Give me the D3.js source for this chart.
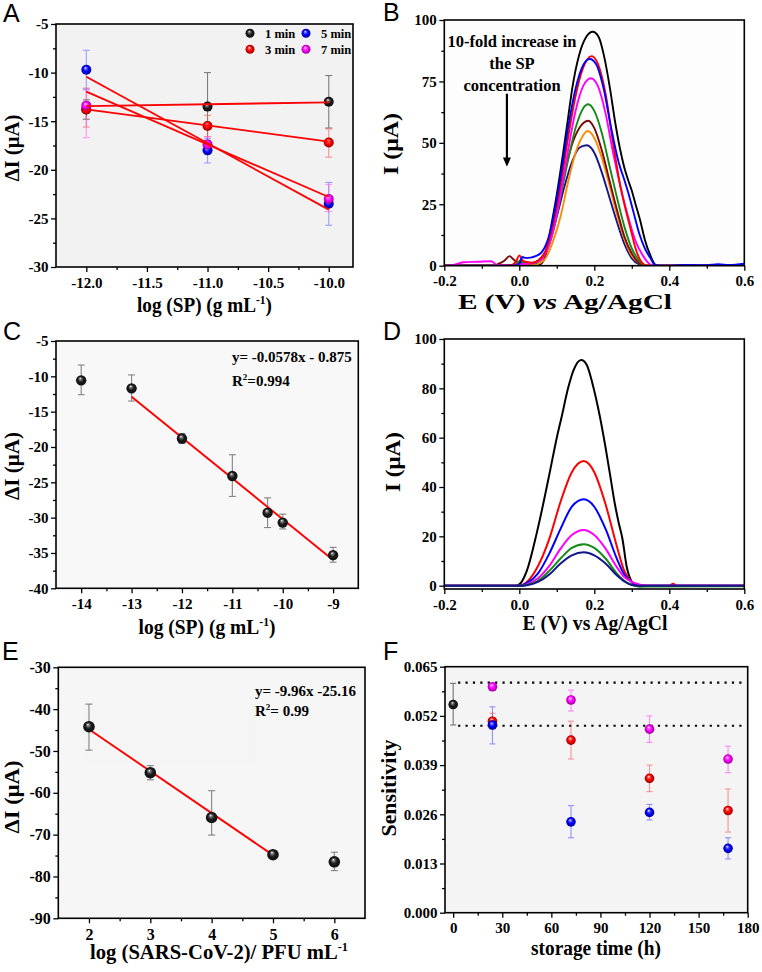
<!DOCTYPE html>
<html><head><meta charset="utf-8">
<script src="https://cdn.jsdelivr.net/npm/d3@7"></script>
<style>body{margin:0;background:#fff}svg{display:block}
.tick text{font-family:"Liberation Serif","Times New Roman",Times,serif !important;font-weight:bold}</style>
</head><body><svg id="chart" width="762" height="972"></svg>
<script>
// ================= DATA =================
// Panel A
const aX = [-12, -11, -10];
const a1 = [-13.8, -13.5, -13.0], a1Lo = [-14.8, -17.0, -15.7], a1Hi = [-12.8, -10.0, -10.3];
const a3 = [-13.8, -15.5, -17.2], a3Lo = [-15.6, -16.6, -18.7], a3Hi = [-11.6, -14.4, -15.8];
const a5 = [-9.7, -18.0, -23.5], a5Lo = [-11.7, -19.3, -25.7], a5Hi = [-7.7, -16.8, -21.3];
const a7 = [-13.4, -17.4, -23.0], a7Lo = [-16.7, -18.2, -24.3], a7Hi = [-11.8, -16.6, -21.5];
const aFitX = [-12, -10];
const a1Fit = [-13.45, -13.06], a3Fit = [-13.78, -17.1], a5Fit = [-10.42, -24.1], a7Fit = [-11.96, -22.8];
const aLegend = ["1 min", "3 min", "5 min", "7 min"];
const aXTicks = [-12, -11.5, -11, -10.5, -10], aXLabels = ["-12.0", "-11.5", "-11.0", "-10.5", "-10.0"];
const aYTicks = [-5, -10, -15, -20, -25, -30], aYLabels = ["-5", "-10", "-15", "-20", "-25", "-30"];

// Panel B  (E in V, I in uA)
const bBlack = [[-0.2,0],[0.0,0],[0.04,0],[0.055,0.5],[0.07,4],[0.086,17],[0.10,29],[0.117,46],[0.13,60],[0.141,72],[0.16,86],[0.178,93],[0.196,95.2],[0.212,93],[0.225,86],[0.242,72],[0.255,59],[0.268,48],[0.28,40],[0.29,35],[0.30,30.5],[0.31,25],[0.322,18.6],[0.335,10.5],[0.35,4],[0.362,0.5],[0.37,0],[0.6,0]];
const bNavy = [[-0.2,0],[0.0,0],[0.02,0.8],[0.035,1],[0.05,2],[0.065,4.5],[0.08,9],[0.10,20],[0.12,32],[0.14,42],[0.16,48],[0.18,49],[0.20,46],[0.22,38],[0.24,28],[0.26,18],[0.28,9],[0.30,3],[0.32,0.5],[0.33,0],[0.6,0]];
const bOrange = [[-0.2,0],[-0.03,0],[0.0,0.3],[0.03,0.3],[0.045,0.5],[0.055,1],[0.07,3],[0.09,10],[0.11,20],[0.13,34],[0.15,46],[0.17,53],[0.182,54.8],[0.20,52],[0.22,44],[0.24,33],[0.26,21],[0.28,11],[0.30,4],[0.32,1],[0.33,0],[0.6,0]];
const bBrown = [[-0.2,0],[-0.07,0],[-0.055,0.8],[-0.04,2],[-0.026,3.9],[-0.015,2.5],[-0.005,1.5],[0.01,1],[0.03,1],[0.05,2],[0.065,4],[0.08,10],[0.10,22],[0.12,37],[0.14,49],[0.16,56],[0.184,59],[0.20,56],[0.22,47],[0.24,35],[0.26,23],[0.28,12],[0.30,5],[0.32,1],[0.33,0],[0.6,0]];
const bGreen = [[-0.2,0],[-0.02,0],[-0.005,1],[0.003,2.2],[0.012,1.2],[0.025,1],[0.04,1],[0.055,2],[0.07,5],[0.09,14],[0.11,28],[0.13,43],[0.15,56],[0.17,64],[0.184,65.7],[0.20,63],[0.22,54],[0.24,41],[0.26,28],[0.28,16],[0.30,7],[0.32,2],[0.335,0],[0.6,0]];
const bMagenta = [[-0.2,0],[-0.175,0.3],[-0.15,1.4],[-0.11,1.6],[-0.075,1.8],[-0.068,1.2],[-0.06,0.2],[-0.02,0.2],[0.0,0.5],[0.02,0.8],[0.04,1.2],[0.055,2],[0.07,5],[0.09,14],[0.11,29],[0.13,47],[0.15,63],[0.17,73],[0.191,76.3],[0.21,73],[0.23,62],[0.25,46],[0.27,32],[0.29,20],[0.31,10],[0.33,4],[0.345,1],[0.355,0],[0.6,0]];
const bRed = [[-0.2,0],[-0.05,0],[-0.02,0.3],[-0.008,2],[0.0,4.2],[0.01,2],[0.02,1.5],[0.035,1.2],[0.05,2],[0.07,6],[0.09,17],[0.11,33],[0.13,52],[0.15,69],[0.17,80.5],[0.193,85.3],[0.21,82],[0.23,70],[0.25,50],[0.27,32],[0.29,19],[0.30,13],[0.31,7],[0.32,3],[0.33,0.8],[0.34,0],[0.6,0]];
const bBlue = [[-0.2,0],[-0.02,0],[0.0,0.8],[0.008,3.6],[0.015,3.2],[0.03,3.3],[0.045,4],[0.06,5.5],[0.075,10],[0.09,19],[0.11,36],[0.13,56],[0.15,72],[0.17,81.5],[0.188,84.1],[0.205,82],[0.225,72],[0.245,56],[0.265,42],[0.28,35],[0.29,30],[0.305,21.5],[0.32,13],[0.335,7],[0.35,3],[0.362,0.3],[0.38,0],[0.45,0.3],[0.5,0.2],[0.53,0.6],[0.56,0.3],[0.6,0.8]];
const bText = ["10-fold increase in", "the SP", "concentration"];
const bXTicks = [-0.2, 0, 0.2, 0.4, 0.6], bXLabels = ["-0.2", "0.0", "0.2", "0.4", "0.6"];
const bYTicks = [0, 25, 50, 75, 100], bYLabels = ["0", "25", "50", "75", "100"];

// Panel C
const cX = [-14, -13, -12, -11, -10.3, -10, -9];
const cY = [-10.57, -11.7, -18.8, -24.1, -29.3, -30.7, -35.3];
const cLo = [-12.6, -13.5, -19.5, -27.0, -31.4, -31.6, -36.3];
const cHi = [-8.4, -9.8, -18.1, -21.1, -27.2, -29.5, -34.2];
const cFitX = [-13, -9], cFitY = [-12.9, -36.0];
const cEq = "y= -0.0578x - 0.875", cR2 = "=0.994";
const cXTicks = [-14, -13, -12, -11, -10, -9], cXLabels = ["-14", "-13", "-12", "-11", "-10", "-9"];
const cYTicks = [-5, -10, -15, -20, -25, -30, -35, -40], cYLabels = ["-5", "-10", "-15", "-20", "-25", "-30", "-35", "-40"];

// Panel D
const dBlack = [[-0.2,0],[-0.01,0],[0.0,0.5],[0.02,6],[0.046,21],[0.065,34],[0.08,45],[0.10,60],[0.113,68.5],[0.13,80],[0.145,87.5],[0.165,91.5],[0.18,89.5],[0.195,82],[0.215,68.5],[0.23,56],[0.242,45],[0.255,33],[0.265,25.5],[0.275,19],[0.286,8],[0.30,1.5],[0.31,0],[0.6,0]];
const dRed = [[-0.2,0],[0.0,0],[0.02,1.5],[0.05,8],[0.08,19],[0.11,34],[0.14,46],[0.172,50.5],[0.20,46],[0.23,33],[0.26,16],[0.28,6],[0.30,1.5],[0.32,0],[0.40,0],[0.41,0.8],[0.42,0],[0.6,0]];
const dBlue = [[-0.2,0],[0.0,0],[0.02,1],[0.05,5],[0.08,13],[0.11,23],[0.14,32],[0.172,35],[0.20,32],[0.23,23],[0.26,11],[0.28,4.5],[0.30,1.5],[0.32,0.3],[0.34,0],[0.6,0]];
const dMagenta = [[-0.2,0],[0.0,0],[0.02,0.5],[0.05,3],[0.08,8],[0.11,15],[0.14,20.5],[0.172,22.6],[0.20,20.5],[0.23,15],[0.26,7.5],[0.28,3.5],[0.30,1.5],[0.32,0.5],[0.34,0],[0.6,0]];
const dGreen = [[-0.2,0],[0.0,0],[0.02,0.3],[0.05,2],[0.08,6],[0.11,11],[0.14,15.3],[0.172,16.8],[0.20,15.3],[0.23,11],[0.26,5],[0.28,2],[0.30,0.3],[0.32,-0.4],[0.36,-0.3],[0.6,-0.2]];
const dNavy = [[-0.2,0],[0.0,0],[0.02,0.2],[0.05,1.5],[0.08,4.5],[0.11,9],[0.14,12.3],[0.172,13.5],[0.20,12.3],[0.23,9],[0.26,4.2],[0.28,1.7],[0.30,0.3],[0.32,0],[0.6,0]];
const dXTicks = [-0.2, 0, 0.2, 0.4, 0.6], dXLabels = ["-0.2", "0.0", "0.2", "0.4", "0.6"];
const dYTicks = [0, 20, 40, 60, 80, 100], dYLabels = ["0", "20", "40", "60", "80", "100"];

// Panel E
const eX = [2, 3, 4, 5, 6];
const eY = [-44.2, -55.2, -65.9, -74.8, -76.5];
const eLo = [-49.8, -56.9, -70.1, -75.7, -78.6];
const eHi = [-38.8, -53.5, -59.5, -74.1, -74.2];
const eFitX = [2, 5], eFitY = [-44.8, -74.9];
const eEq = "y= -9.96x -25.16", eR2 = "= 0.99";
const eXTicks = [2, 3, 4, 5, 6], eXLabels = ["2", "3", "4", "5", "6"];
const eYTicks = [-30, -40, -50, -60, -70, -80, -90], eYLabels = ["-30", "-40", "-50", "-60", "-70", "-80", "-90"];

// Panel F
const fBlackT = [0], fBlack = [0.0550], fBlackLo = [0.0496], fBlackHi = [0.0606];
const fT = [24, 72, 120, 168];
const fMag = [0.0597, 0.0562, 0.0485, 0.0406], fMagLo = [0.0594, 0.0533, 0.0450, 0.0370], fMagHi = [0.0600, 0.0588, 0.0520, 0.0440];
const fRed = [0.0506, 0.0456, 0.0355, 0.0270], fRedLo = [0.0486, 0.0406, 0.0320, 0.0213], fRedHi = [0.0527, 0.0506, 0.0390, 0.0327];
const fBlue = [0.0496, 0.0240, 0.0265, 0.0170], fBlueLo = [0.0446, 0.0198, 0.0245, 0.0142], fBlueHi = [0.0544, 0.0283, 0.0286, 0.0198];
const fRefLines = [0.0608, 0.0494], fRefRange = [3, 179];
const fXTicks = [0, 30, 60, 90, 120, 150, 180], fXLabels = ["0", "30", "60", "90", "120", "150", "180"];
const fYTicks = [0, 0.013, 0.026, 0.039, 0.052, 0.065], fYLabels = ["0.000", "0.013", "0.026", "0.039", "0.052", "0.065"];

// ================= DRAWING =================
const SERIF = '"Liberation Serif","Times New Roman",Times,serif';
const SANS = '"Liberation Sans",Arial,sans-serif';
const svg = d3.select("#chart");
const defs = svg.append("defs");
svg.append("rect").attr("width", 762).attr("height", 972).attr("fill", "#fff");

const gradIds = {};
function grad(color) {
  if (gradIds[color]) return gradIds[color];
  const id = "grad" + Object.keys(gradIds).length;
  const rg = defs.append("radialGradient").attr("id", id)
    .attr("cx", "50%").attr("cy", "50%").attr("r", "50%").attr("fx", "40%").attr("fy", "30%");
  rg.append("stop").attr("offset", "0%").attr("stop-color", "#ffffff");
  rg.append("stop").attr("offset", "22%").attr("stop-color", d3.interpolateRgb("#ffffff", color)(0.6));
  rg.append("stop").attr("offset", "55%").attr("stop-color", color);
  rg.append("stop").attr("offset", "100%").attr("stop-color", d3.color(color).darker(1.4).formatHex());
  gradIds[color] = id;
  return id;
}

function midpoints(arr) { const m = []; for (let i = 0; i < arr.length - 1; i++) m.push((arr[i] + arr[i + 1]) / 2); return m; }

function styleAxis(a, fs) {
  a.select(".domain").remove();
  a.attr("font-family", SERIF).attr("font-size", fs).attr("font-weight", "bold");
  a.selectAll(".tick line").attr("stroke", "#000").attr("stroke-width", 1.3);
  a.selectAll(".tick text").attr("fill", "#000").attr("font-family", SERIF)
    .attr("font-weight", "bold").attr("font-size", fs);
}

let clipN = 0;
function makePanel(o) {
  const w = o.r - o.l, h = o.b - o.t;
  const g = svg.append("g").attr("transform", `translate(${o.l},${o.t})`);
  const x = d3.scaleLinear().domain(o.xd).range([0, w]);
  const y = d3.scaleLinear().domain(o.yd).range([h, 0]);
  g.append("rect").attr("width", w).attr("height", h).attr("fill", o.bg);
  const fs = o.fs || 15;
  const xm = o.xMinor || midpoints(o.xTicks), ym = o.yMinor || midpoints(o.yTicks);
  const a1 = g.append("g").attr("transform", `translate(0,${h})`);
  a1.call(d3.axisBottom(x).tickValues(xm).tickSize(3).tickFormat(""));
  styleAxis(a1, fs);
  const a2 = g.append("g").attr("transform", `translate(0,${h})`);
  a2.call(d3.axisBottom(x).tickValues(o.xTicks).tickSize(5).tickPadding(5).tickFormat((d, i) => o.xLabels[i]));
  styleAxis(a2, fs);
  const a3 = g.append("g");
  a3.call(d3.axisLeft(y).tickValues(ym).tickSize(3).tickFormat(""));
  styleAxis(a3, fs);
  const a4 = g.append("g");
  a4.call(d3.axisLeft(y).tickValues(o.yTicks).tickSize(5).tickPadding(2.5).tickFormat((d, i) => o.yLabels[i]));
  styleAxis(a4, fs);
  const cid = "clip" + (clipN++);
  defs.append("clipPath").attr("id", cid).append("rect").attr("width", w).attr("height", h);
  const inner = g.append("g").attr("clip-path", `url(#${cid})`);
  return { g, inner, x, y, w, h, o };
}
function frame(p) {
  p.g.append("rect").attr("width", p.w).attr("height", p.h).attr("fill", "none")
    .attr("stroke", "#000").attr("stroke-width", 1.6);
}
function errBars(p, xs, lo, hi, color, cap, opacity) {
  const e = p.inner.append("g").attr("stroke", color).attr("stroke-width", 1.1).attr("opacity", opacity);
  xs.forEach((xv, i) => {
    const cx = p.x(xv);
    e.append("line").attr("x1", cx).attr("x2", cx).attr("y1", p.y(lo[i])).attr("y2", p.y(hi[i]));
    [lo[i], hi[i]].forEach(v => e.append("line").attr("x1", cx - cap).attr("x2", cx + cap).attr("y1", p.y(v)).attr("y2", p.y(v)));
  });
}
function balls(p, xs, ys, color, r) {
  p.inner.append("g").selectAll("circle").data(d3.zip(xs, ys)).join("circle")
    .attr("cx", d => p.x(d[0])).attr("cy", d => p.y(d[1])).attr("r", r)
    .attr("fill", `url(#${grad(color)})`);
}
function fitLine(p, xs, ys, w) {
  p.inner.append("path").datum(d3.zip(xs, ys))
    .attr("d", d3.line().x(d => p.x(d[0])).y(d => p.y(d[1])))
    .attr("fill", "none").attr("stroke", "#ff0000").attr("stroke-width", w || 1.8);
}
function curve(p, pts, color, w) {
  p.inner.append("path").datum(pts)
    .attr("d", d3.line().curve(d3.curveMonotoneX).x(d => p.x(d[0])).y(d => p.y(d[1])))
    .attr("fill", "none").attr("stroke", color).attr("stroke-width", w).attr("stroke-linejoin", "round");
}
function label(x, y, txt, opts) {
  const t = svg.append("text").attr("x", x).attr("y", y)
    .attr("font-family", SERIF).attr("font-weight", "bold").attr("font-size", opts.fs || 20)
    .attr("text-anchor", "middle").attr("fill", "#000");
  if (txt) t.text(txt);
  if (opts.rot) t.attr("transform", `rotate(-90,${x},${y})`);
  if (opts.len) t.attr("textLength", opts.len).attr("lengthAdjust", "spacingAndGlyphs");
  return t;
}
function sup(t, main, s, tail, fs) {
  t.append("tspan").text(main);
  t.append("tspan").text(s).attr("font-size", Math.round(fs * 0.62)).attr("dy", -fs * 0.4);
  if (tail) t.append("tspan").text(tail).attr("dy", fs * 0.4);
}
function panelLetter(x, y, L) {
  svg.append("text").attr("x", x).attr("y", y).text(L)
    .attr("font-family", SANS).attr("font-size", 25).attr("fill", "#000");
}

// ---------- Panel A ----------
const pA = makePanel({ l: 56, t: 24, r: 353, b: 267, xd: [-12.25, -9.8], yd: [-30, -5], bg: "#f2f2f2",
  xTicks: aXTicks, xLabels: aXLabels, yTicks: aYTicks, yLabels: aYLabels,
  xMinor: [-11.75, -11.25, -10.75, -10.25] });
errBars(pA, aX, a1Lo, a1Hi, "#555555", 3.5, 0.75);
errBars(pA, aX, a3Lo, a3Hi, "#ff5050", 3.5, 0.6);
errBars(pA, aX, a5Lo, a5Hi, "#5a5aff", 3.5, 0.55);
errBars(pA, aX, a7Lo, a7Hi, "#ff50ff", 3.5, 0.55);
balls(pA, aX, a1, "#1a1a1a", 5);
balls(pA, aX, a3, "#ff0000", 5);
balls(pA, aX, a5, "#0000ff", 5);
balls(pA, aX, a7, "#ff00ff", 5);
fitLine(pA, aFitX, a1Fit); fitLine(pA, aFitX, a3Fit); fitLine(pA, aFitX, a5Fit); fitLine(pA, aFitX, a7Fit);
// legend
const legCols = ["#1a1a1a", "#ff0000", "#0000ff", "#ff00ff"];
const legPos = [[194, 9.3], [194, 25.3], [250, 9.3], [250, 25.3]];
aLegend.forEach((t, i) => {
  pA.g.append("circle").attr("cx", legPos[i][0]).attr("cy", legPos[i][1]).attr("r", 4.5).attr("fill", `url(#${grad(legCols[i])})`);
  pA.g.append("text").attr("x", legPos[i][0] + 15).attr("y", legPos[i][1] + 4.5).text(t)
    .attr("font-family", SERIF).attr("font-weight", "bold").attr("font-size", 12.5);
});
frame(pA);
panelLetter(3, 22, "A");
sup(label(204.5, 312, "", { len: 135 }), "log (SP) (g mL", "-1", ")", 20);
label(19, 148, "ΔI (μA)", { rot: true, len: 67 });

// ---------- Panel B ----------
const pB = makePanel({ l: 444.3, t: 20, r: 744.3, b: 265.7, xd: [-0.2, 0.6], yd: [0, 100], bg: "#fdfdfd",
  xTicks: bXTicks, xLabels: bXLabels, yTicks: bYTicks, yLabels: bYLabels });
curve(pB, bBlack, "#000000", 1.9);
curve(pB, bNavy, "#14148c", 1.9);
curve(pB, bOrange, "#ff8c00", 1.9);
curve(pB, bBrown, "#7a0a0a", 1.9);
curve(pB, bGreen, "#168a16", 1.9);
curve(pB, bMagenta, "#ff00ff", 1.9);
curve(pB, bRed, "#ff0000", 1.9);
curve(pB, bBlue, "#0000ff", 1.9);
bText.forEach((t, i) => {
  pB.g.append("text").attr("x", pB.x(-0.0195)).attr("y", 27 + i * 21.8).attr("text-anchor", "middle").text(t)
    .attr("font-family", SERIF).attr("font-weight", "bold").attr("font-size", 16.5);
});
pB.g.append("line").attr("x1", pB.x(-0.033)).attr("x2", pB.x(-0.033)).attr("y1", pB.y(70)).attr("y2", pB.y(43))
  .attr("stroke", "#000").attr("stroke-width", 2.2);
pB.g.append("path").attr("d", `M${pB.x(-0.033) - 4},${pB.y(44)} L${pB.x(-0.033) + 4},${pB.y(44)} L${pB.x(-0.033)},${pB.y(40.3)} Z`).attr("fill", "#000");
frame(pB);
panelLetter(383, 21, "B");
{
  const t = label(565, 309, "", { len: 214 });
  t.append("tspan").text("E (V) ");
  t.append("tspan").text("vs").attr("font-style", "italic");
  t.append("tspan").text(" Ag/AgCl");
}
label(398, 144, "I (μA)", { rot: true, len: 62 });

// ---------- Panel C ----------
const pC = makePanel({ l: 56, t: 341, r: 358.3, b: 588.3, xd: [-14.5, -8.5], yd: [-40, -5], bg: "#f8f8f8",
  xTicks: cXTicks, xLabels: cXLabels, yTicks: cYTicks, yLabels: cYLabels,
  xMinor: [-13.5, -12.5, -11.5, -10.5, -9.5] });
errBars(pC, cX, cLo, cHi, "#777777", 3.5, 0.9);
fitLine(pC, cFitX, cFitY, 1.9);
balls(pC, cX, cY, "#1a1a1a", 5.2);
{
  pC.g.append("text").attr("x", 176).attr("y", 21).text(cEq)
    .attr("font-family", SERIF).attr("font-weight", "bold").attr("font-size", 15);
  const t2 = pC.g.append("text").attr("x", 176).attr("y", 45)
    .attr("font-family", SERIF).attr("font-weight", "bold").attr("font-size", 15);
  sup(t2, "R", "2", cR2, 15);
}
frame(pC);
panelLetter(3, 340, "C");
sup(label(207, 634, "", { len: 137 }), "log (SP) (g mL", "-1", ")", 20);
label(19, 466, "ΔI (μA)", { rot: true, len: 68 });

// ---------- Panel D ----------
const pD = makePanel({ l: 444.3, t: 339, r: 744.3, b: 589, xd: [-0.2, 0.6], yd: [-1.35, 100], bg: "#ffffff",
  xTicks: dXTicks, xLabels: dXLabels, yTicks: dYTicks, yLabels: dYLabels });
curve(pD, dBlack, "#000000", 2);
curve(pD, dRed, "#ff0000", 2);
curve(pD, dBlue, "#0000ff", 2);
curve(pD, dMagenta, "#ff00ff", 2);
curve(pD, dGreen, "#168a16", 2);
curve(pD, dNavy, "#14148c", 2);
frame(pD);
panelLetter(383, 340, "D");
label(595, 630, "E (V) vs Ag/AgCl", { len: 145 });
label(400, 462, "I (μA)", { rot: true, len: 60 });

// ---------- Panel E ----------
const pE = makePanel({ l: 58.3, t: 667.3, r: 365, b: 918.3, xd: [1.5, 6.5], yd: [-90, -30], bg: "#f6f6f6", fs: 16,
  xTicks: eXTicks, xLabels: eXLabels, yTicks: eYTicks, yLabels: eYLabels,
  xMinor: [2.5, 3.5, 4.5, 5.5] });
errBars(pE, eX, eLo, eHi, "#777777", 3.5, 0.9);
fitLine(pE, eFitX, eFitY, 1.9);
balls(pE, eX, eY, "#1a1a1a", 5.8);
{
  pE.g.append("text").attr("x", 196.7).attr("y", 28.7).text(eEq)
    .attr("font-family", SERIF).attr("font-weight", "bold").attr("font-size", 15);
  const t2 = pE.g.append("text").attr("x", 196.7).attr("y", 49)
    .attr("font-family", SERIF).attr("font-weight", "bold").attr("font-size", 15);
  sup(t2, "R", "2", eR2, 15);
}
frame(pE);
panelLetter(2, 660, "E");
sup(label(219, 959, "", { len: 258 }), "log (SARS-CoV-2)/ PFU mL", "-1", "", 20);
label(19, 797, "ΔI (μA)", { rot: true, len: 73 });

// ---------- Panel F ----------
const pF = makePanel({ l: 445, t: 666.7, r: 747.7, b: 912.7, xd: [-5, 180], yd: [0, 0.065], bg: "#f4f4f4",
  xTicks: fXTicks, xLabels: fXLabels, yTicks: fYTicks, yLabels: fYLabels });
fRefLines.forEach(v => {
  pF.inner.append("line").attr("x1", pF.x(fRefRange[0])).attr("x2", pF.x(fRefRange[1]))
    .attr("y1", pF.y(v)).attr("y2", pF.y(v)).attr("stroke", "#000").attr("stroke-width", 2.2)
    .attr("stroke-dasharray", "2.2 5.2");
});
errBars(pF, fBlackT, fBlackLo, fBlackHi, "#555555", 3, 0.8);
errBars(pF, fT, fMagLo, fMagHi, "#ff40ff", 3, 0.6);
errBars(pF, fT, fRedLo, fRedHi, "#ff4040", 3, 0.55);
errBars(pF, fT, fBlueLo, fBlueHi, "#4040ff", 3, 0.55);
balls(pF, fBlackT, fBlack, "#1a1a1a", 4.8);
balls(pF, fT, fMag, "#ff00ff", 4.8);
balls(pF, fT, fRed, "#ff0000", 4.8);
balls(pF, fT, fBlue, "#0000ff", 4.8);
frame(pF);
panelLetter(383, 660, "F");
label(596, 955, "storage time (h)", { len: 130 });
label(396, 788, "Sensitivity", { rot: true, len: 97 });
</script></body></html>
